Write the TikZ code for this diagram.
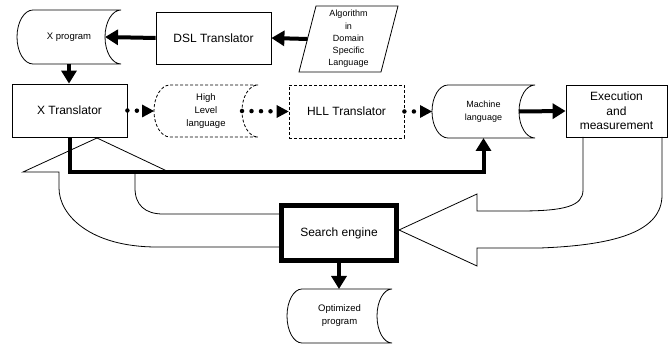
\documentclass[tikz,border=0pt]{standalone}
\usepackage{fontspec}
\setmainfont{Liberation Sans}
\usetikzlibrary{arrows.meta,calc}

\tikzset{
  box/.style={draw, line width=0.8pt, rectangle, inner sep=0pt, align=center,
    font=\fontsize{12}{14.5}\selectfont},
  sdtext/.style={inner sep=0pt, outer sep=0pt, align=center,
    font=\fontsize{9.5}{13}\selectfont},
  thickarrow/.style={line width=4pt, -{Triangle[length=13pt,width=15pt]}},
  dotline/.style={line width=4.5pt, line cap=round, dash pattern=on 0pt off 9.5pt,
    shorten >=14pt},
  hollow/.style={line width=0.8pt, line join=miter},
  shortdash/.style={dash pattern=on 3pt off 2pt},
}

\newcommand\sdshape[3][]{%
  \draw[line width=0.8pt,#1] let \p1=(#2.north west), \p2=(#2.south east),
    \n1={(\y1-\y2)/2} in
    (\x1+#3,\y1) -- (\x2,\y1)
    arc[start angle=90,end angle=270,x radius=#3pt,y radius=\n1]
    -- (\x1+#3,\y2)
    arc[start angle=270,end angle=90,x radius=#3pt,y radius=\n1] -- cycle;}
\newcommand\dottip[1]{\fill #1 -- ++(-12,6.5) -- ++(0,-13) -- cycle;}

\begin{document}
\begin{tikzpicture}[x=1pt,y=1pt]
\useasboundingbox (0,0) rectangle (672,-344);

% big hollow arrows (drawn first)
\draw[hollow] (279,-214) -- (163,-214)
  .. controls (145,-214) and (135,-205) .. (135,-188) -- (135,-172)
  -- (169,-172) -- (97,-138) -- (23,-172) -- (59,-172) -- (59,-188)
  .. controls (59,-215) and (90,-247) .. (157,-247) -- (279,-247);
\draw[hollow] (583,-137) -- (583,-190)
  .. controls (583,-206) and (565,-211) .. (520,-211) -- (477,-211)
  -- (477,-194) -- (399,-230) -- (477,-266) -- (477,-248) -- (540,-248)
  .. controls (620,-245) and (662,-230) .. (662,-195) -- (662,-137);

% nodes
\node[sdtext] (xp) at (69,-37) [minimum width=104pt, minimum height=54pt] {X program};
\sdshape{xp}{16}
\node[box, minimum width=115pt, minimum height=52pt] (dsl) at (213.5,-38) {DSL Translator};
\node[sdtext, font=\fontsize{9}{12.2}\selectfont, minimum width=82pt, minimum height=66pt]
  (alg) at (348.5,-39) {Algorithm\\in\\Domain\\Specific\\Language};
\draw[line width=0.8pt] ($(alg.north west)+(8.5,0)$) -- ($(alg.north east)+(8.5,0)$)
  -- ($(alg.south east)+(-8.5,0)$) -- ($(alg.south west)+(-8.5,0)$) -- cycle;

\node[box, minimum width=115pt, minimum height=53pt] (xt) at (69.5,-110.5) {X Translator};
\node[sdtext, minimum width=104pt, minimum height=52pt] (hll) at (206,-111) {High\\Level\\language};
\sdshape[shortdash]{hll}{16}
\node[box, shortdash, minimum width=115pt, minimum height=53pt] (hllt) at (346.5,-111.5) {HLL Translator};
\node[sdtext, font=\fontsize{9}{13}\selectfont, minimum width=103pt, minimum height=53pt] (ml) at (483.5,-111.5) {Machine\\language};
\sdshape{ml}{16}
\node[box, minimum width=101pt, minimum height=52pt] (ex) at (616.5,-111) {Execution\\and\\measurement};

\node[box, fill=white, line width=5pt, minimum width=115pt, minimum height=55pt] (se) at (339,-233) {Search engine};
\node[sdtext, minimum width=105pt, minimum height=54pt] (op) at (339.5,-316) {Optimized\\program};
\sdshape{op}{15}

% connectors
\draw[thickarrow] (alg.west) -- (dsl.east);
\draw[thickarrow] (dsl.west) -- ($(xp.east)+(-16,0)$);
\draw[thickarrow] (xp.south) -- (xp.south |- xt.north);
\draw[dotline] (xt.east) -- (hll.west);
\dottip{(hll.west)}
\draw[dotline] ($(hll.east)+(-16,0)$) -- (hllt.west);
\dottip{(hllt.west)}
\draw[dotline] (hllt.east) -- (ml.west);
\dottip{(ml.west)}
\draw[thickarrow] ($(ml.east)+(-16,0)$) -- (ex.west);
\draw[thickarrow, line join=miter] (xt.south) -- ($(xt.south)+(0,-35)$) -| (ml.south);
\draw[thickarrow] (se.south) -- (se.south |- op.north);
\end{tikzpicture}
\end{document}
